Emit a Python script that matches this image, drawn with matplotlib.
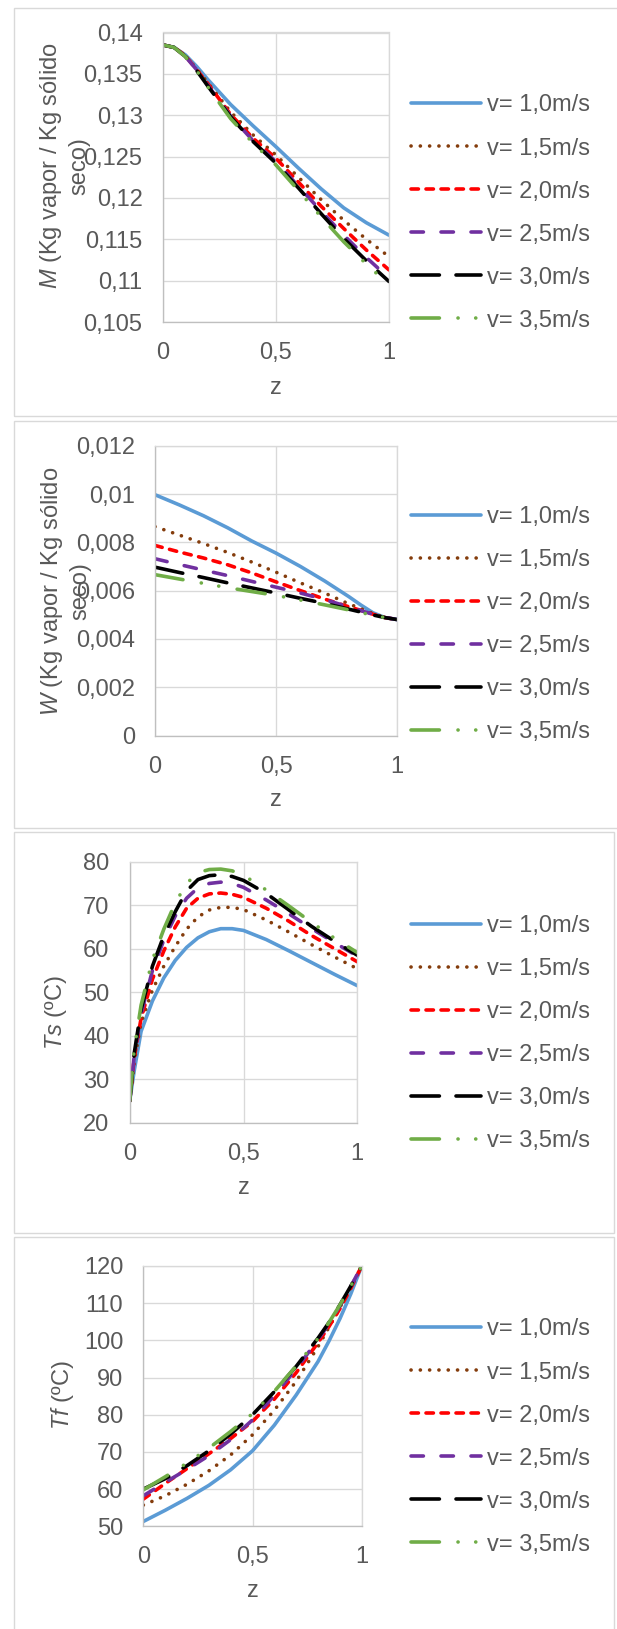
import matplotlib
matplotlib.use('Agg')
import matplotlib.pyplot as plt
from matplotlib.patches import Rectangle

plt.rcParams['font.family'] = 'Liberation Sans'
plt.rcParams['mathtext.fontset'] = 'custom'
plt.rcParams['mathtext.it'] = 'Liberation Sans:italic'
plt.rcParams['mathtext.rm'] = 'Liberation Sans'
plt.rcParams['lines.scale_dashes'] = False

# ---- data -------------------------------------------------------------
labels = ['v= 1,0m/s', 'v= 1,5m/s', 'v= 2,0m/s', 'v= 2,5m/s', 'v= 3,0m/s', 'v= 3,5m/s']

# moisture content M along the dryer
z_M = [0, 0.05, 0.1, 0.15, 0.2, 0.3, 0.4, 0.5, 0.6, 0.7, 0.8, 0.9, 1.0]
M_10 = [0.1385, 0.1382, 0.1373, 0.1359, 0.1343, 0.1313, 0.1287, 0.1262, 0.1236, 0.1211, 0.1188, 0.1170, 0.1155]
M_15 = [0.1385, 0.1382, 0.1372, 0.1356, 0.1339, 0.1304, 0.1276, 0.1252, 0.1225, 0.1198, 0.1173, 0.1150, 0.1129]
M_20 = [0.1385, 0.1382, 0.1372, 0.1355, 0.1338, 0.1301, 0.1272, 0.1248, 0.1219, 0.1190, 0.1163, 0.1137, 0.1113]
M_25 = [0.1385, 0.1382, 0.1371, 0.1355, 0.1336, 0.1299, 0.1269, 0.1244, 0.1214, 0.1184, 0.1155, 0.1128, 0.1103]
M_30 = [0.1385, 0.1382, 0.1371, 0.1354, 0.1335, 0.1298, 0.1268, 0.1242, 0.1212, 0.1181, 0.1151, 0.1124, 0.1099]
M_35 = [0.1385, 0.1382, 0.1371, 0.1354, 0.1334, 0.1296, 0.1266, 0.1240, 0.1209, 0.1177, 0.1147, 0.1120, 0.1095]

# air humidity W
z_W = [0, 0.1, 0.2, 0.3, 0.4, 0.5, 0.6, 0.7, 0.8, 0.85, 0.9, 0.95, 1.0]
W_10 = [0.00997, 0.00955, 0.00910, 0.00860, 0.00805, 0.00755, 0.00700, 0.00640, 0.00575, 0.00540, 0.00508, 0.00488, 0.00480]
W_15 = [0.00865, 0.00830, 0.00795, 0.00758, 0.00718, 0.00676, 0.00632, 0.00590, 0.00545, 0.00525, 0.00505, 0.00488, 0.00480]
W_20 = [0.00787, 0.00760, 0.00735, 0.00707, 0.00673, 0.00636, 0.00600, 0.00565, 0.00533, 0.00518, 0.00502, 0.00488, 0.00480]
W_25 = [0.00732, 0.00708, 0.00685, 0.00662, 0.00638, 0.00614, 0.00590, 0.00563, 0.00532, 0.00517, 0.00502, 0.00489, 0.00480]
W_30 = [0.00697, 0.00675, 0.00654, 0.00632, 0.00611, 0.00590, 0.00568, 0.00547, 0.00523, 0.00511, 0.00499, 0.00488, 0.00480]
W_35 = [0.00666, 0.00648, 0.00630, 0.00612, 0.00596, 0.00580, 0.00561, 0.00541, 0.00520, 0.00509, 0.00498, 0.00488, 0.00480]

# solid temperature Ts
z_Ts = [0, 0.02, 0.05, 0.1, 0.15, 0.2, 0.25, 0.3, 0.35, 0.4, 0.45, 0.5, 0.6, 0.7, 0.8, 0.9, 1.0]
Ts_10 = [25, 32, 41, 48, 53.3, 57.3, 60.3, 62.5, 63.9, 64.6, 64.6, 64.2, 62.1, 59.5, 56.8, 54.1, 51.5]
Ts_15 = [25, 34, 43, 50.5, 56, 60.5, 64.5, 67.3, 68.9, 69.5, 69.5, 69.0, 66.6, 63.8, 60.9, 58.1, 55.4]
Ts_20 = [25, 35, 44, 53, 59.5, 65, 69.3, 71.6, 72.6, 72.8, 72.5, 71.8, 69.3, 66.3, 63.0, 60.0, 57.0]
Ts_25 = [25, 35.5, 45, 55, 62, 67.5, 71.6, 74.0, 75.0, 75.3, 75.0, 74.1, 71.2, 68.0, 64.6, 61.4, 58.3]
Ts_30 = [25, 36, 46, 56, 63, 68.5, 73.3, 75.9, 76.8, 77.0, 76.6, 75.7, 72.7, 68.9, 65.1, 61.7, 58.5]
Ts_35 = [25, 37, 47, 57.5, 64.5, 70.5, 75.0, 77.5, 78.2, 78.3, 77.9, 76.9, 73.5, 69.8, 66.0, 62.4, 59.1]

# air temperature Tf
z_Tf = [0, 0.1, 0.2, 0.3, 0.4, 0.5, 0.6, 0.7, 0.8, 0.85, 0.9, 0.95, 1.0]
Tf_10 = [51.3, 54.3, 57.5, 61.0, 65.2, 70.3, 77.2, 85.3, 94.3, 99.8, 105.8, 112.5, 120]
Tf_15 = [55.7, 58.2, 61.3, 64.9, 69.2, 74.6, 81.2, 89.0, 98.3, 103.5, 108.8, 114.3, 120]
Tf_20 = [57.3, 61.5, 65.5, 69.5, 73.6, 78.2, 84.2, 91.3, 99.4, 103.7, 108.5, 114.0, 120]
Tf_25 = [58.2, 61.8, 65.3, 69.0, 73.3, 78.6, 85.2, 92.3, 100.2, 104.5, 109.3, 114.5, 120]
Tf_30 = [60.0, 62.8, 66.3, 70.3, 74.8, 80.0, 86.2, 93.0, 100.6, 104.8, 109.5, 114.6, 120]
Tf_35 = [59.8, 63.3, 67.0, 71.0, 75.5, 80.3, 86.3, 93.1, 100.5, 104.8, 109.5, 114.6, 120]

x_ticks = [0, 0.5, 1]
x_ticklabels = ['0', '0,5', '1']

M_ticks = [0.105, 0.11, 0.115, 0.12, 0.125, 0.13, 0.135, 0.14]
M_ticklabels = ['0,105', '0,11', '0,115', '0,12', '0,125', '0,13', '0,135', '0,14']
W_ticks = [0, 0.002, 0.004, 0.006, 0.008, 0.01, 0.012]
W_ticklabels = ['0', '0,002', '0,004', '0,006', '0,008', '0,01', '0,012']
Ts_ticks = [20, 30, 40, 50, 60, 70, 80]
Tf_ticks = [50, 60, 70, 80, 90, 100, 110, 120]

# ---- styles -----------------------------------------------------------
W_PX, H_PX = 617, 1629
PT = 0.72          # points per pixel at dpi 100
TXT = '#595959'
GRID = '#d9d9d9'
FS = 17

# (colour, dash pattern in pixels) -- round caps widen each dash by the line width
line_styles = [
    ('#5B9BD5', None),
    ('#843C0C', (0.1, 9.2)),
    ('#FF0000', (7.4, 7.6)),
    ('#7030A0', (12.4, 17.6)),
    ('#000000', (28.4, 16.6)),
    ('#70AD47', (28.4, 18.6, 0.1, 17.6, 0.1, 18.6)),
]


def fig_rect(l, t, r, b):
    return [l / W_PX, 1 - b / H_PX, (r - l) / W_PX, (b - t) / H_PX]


def fx(x):
    return x / W_PX


def fy(y):
    return 1 - y / H_PX


fig = plt.figure(figsize=(6.17, 16.29), dpi=100)

# chart frames
for (l, t, r, b) in [(14, 7.5, 640, 415.7), (14, 420.7, 640, 827.7),
                     (14, 832.3, 614, 1232.7), (14, 1237, 614, 1660)]:
    fig.patches.append(Rectangle((fx(l), fy(b)), fx(r - l), (b - t) / H_PX,
                                 transform=fig.transFigure, fill=False,
                                 edgecolor=GRID, lw=1.0))


def make_panel(rect, z, ys, yticks, yticklabels, ylim, ylabel, ylab_xy, zlab_y, leg_top):
    ax = fig.add_axes(fig_rect(*rect))
    for y, lab, (col, dash) in zip(ys, labels, line_styles):
        kw = dict(color=col, lw=2.6, label=lab, solid_capstyle='round',
                  dash_capstyle='round')
        if dash is not None:
            kw['dashes'] = [d * PT for d in dash]
        ax.plot(z, y, **kw)

    ax.set_xlim(0, 1)
    ax.set_ylim(*ylim)
    ax.set_xticks(x_ticks)
    ax.set_xticklabels(x_ticklabels)
    ax.set_yticks(yticks)
    ax.set_yticklabels(yticklabels)
    ax.tick_params(length=0, labelsize=FS, labelcolor=TXT, pad=14.5)
    ax.grid(True, color=GRID, lw=0.95)
    ax.set_axisbelow(True)
    for s in ax.spines.values():
        s.set_color(GRID)
        s.set_linewidth(0.95)
    ax.spines['left'].set_color('#bfbfbf')
    ax.spines['bottom'].set_color('#bfbfbf')

    ax.set_ylabel(ylabel, fontsize=FS, color=TXT, linespacing=1.25)
    ax.yaxis.label.set_va('center')
    ax.yaxis.set_label_coords(fx(ylab_xy[0]), fy(ylab_xy[1]), transform=fig.transFigure)

    ax.set_xlabel('z', fontsize=FS, color=TXT)
    ax.xaxis.label.set_va('baseline')
    ax.xaxis.set_label_coords(fx((rect[0] + rect[2]) / 2), fy(zlab_y), transform=fig.transFigure)

    ax.legend(loc='upper left', bbox_to_anchor=(fx(411), fy(leg_top)),
              bbox_transform=fig.transFigure, frameon=False, fontsize=FS,
              labelcolor=TXT, handlelength=70 / 23.6, handletextpad=0.25,
              labelspacing=0.89, borderpad=0, borderaxespad=0)
    return ax


make_panel((162.7, 32.5, 389, 322), z_M, [M_10, M_15, M_20, M_25, M_30, M_35],
           M_ticks, M_ticklabels, (0.105, 0.14),
           '$\\mathit{M}$ (Kg vapor / Kg sólido\nseco)', (64, 166), 394, 94.5)

make_panel((155, 445.7, 397.3, 735.5), z_W, [W_10, W_15, W_20, W_25, W_30, W_35],
           W_ticks, W_ticklabels, (0, 0.012),
           '$\\mathit{W}$ (Kg vapor / Kg sólido\nseco)', (65, 591), 806, 505.8)

make_panel((129.7, 861.7, 357.3, 1122.7), z_Ts, [Ts_10, Ts_15, Ts_20, Ts_25, Ts_30, Ts_35],
           Ts_ticks, [str(v) for v in Ts_ticks], (20, 80),
           '$\\mathit{Ts}$ (ºC)', (56, 1013), 1194, 914.8)

make_panel((143.3, 1266, 361.7, 1526.3), z_Tf, [Tf_10, Tf_15, Tf_20, Tf_25, Tf_30, Tf_35],
           Tf_ticks, [str(v) for v in Tf_ticks], (50, 120),
           '$\\mathit{Tf}$ (ºC)', (63, 1395), 1597, 1318.5)

fig.savefig('out.png', dpi=100)
